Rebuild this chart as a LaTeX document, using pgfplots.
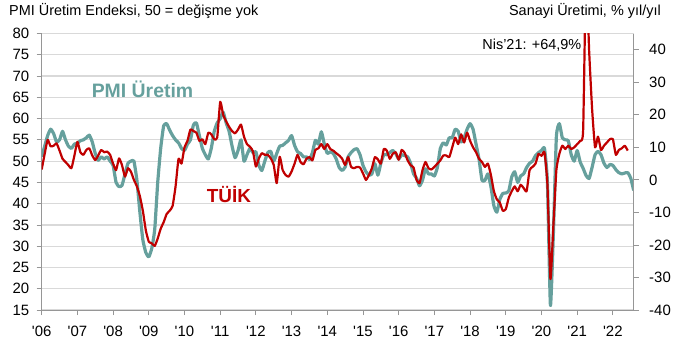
\documentclass[border=0pt]{standalone}
\usepackage{fontspec}
\setmainfont{Liberation Sans}
\usepackage{pgfplots}
\usepackage{pgfplotstable}
\pgfplotsset{compat=1.18}
\definecolor{pmiteal}{RGB}{102,160,157}
\definecolor{tuikred}{RGB}{192,0,0}
\definecolor{gridgray}{RGB}{217,217,217}
\definecolor{axisgray}{RGB}{150,150,150}

\pgfplotstableread{
yr mo pmi tuik
2006 1 51 3.2
2006 2 53.5 8
2006 3 56 12.3
2006 4 57.5 10.3
2006 5 56.5 10.5
2006 6 54.5 11.2
2006 7 55 9
2006 8 57 6.5
2006 9 55 5.5
2006 10 53.5 4.5
2006 11 53 3.6
2006 12 54 7.5
2007 1 54.2 11.7
2007 2 54.8 8.5
2007 3 55 7.7
2007 4 55.5 9.2
2007 5 56.1 9.7
2007 6 54.5 7.5
2007 7 51.8 6.1
2007 8 50.2 7.5
2007 9 51 9.2
2007 10 50.5 8.5
2007 11 51 8.7
2007 12 50 7.7
2008 1 49 5
2008 2 45 3
2008 3 44 6.6
2008 4 44.3 4.5
2008 5 47 1
2008 6 49.5 3.6
2008 7 50 2.5
2008 8 50 0
2008 9 45.5 -2
2008 10 38 -5
2008 11 31.5 -9.5
2008 12 28.5 -15.5
2009 1 27.5 -19
2009 2 29.5 -19.5
2009 3 34 -20.3
2009 4 45 -18
2009 5 53 -15
2009 6 58.3 -13
2009 7 58.8 -10.5
2009 8 57.3 -9.5
2009 9 56 -8
2009 10 55 -2
2009 11 54.3 6.5
2009 12 53 5
2010 1 52.5 10
2010 2 54 12
2010 3 55 15.5
2010 4 58.5 15
2010 5 59 14.5
2010 6 56 12
2010 7 53 12.5
2010 8 51.5 11
2010 9 50.5 14.5
2010 10 53 14
2010 11 57 12.5
2010 12 59 13
2011 1 60 24
2011 2 61.5 20
2011 3 59 18
2011 4 57 16.3
2011 5 53.5 15
2011 6 50.8 14.3
2011 7 52.5 15.5
2011 8 55 17
2011 9 50 13.3
2011 10 51.5 11
2011 11 53 10.2
2011 12 52 8.8
2012 1 52.2 4.1
2012 2 49 6.6
2012 3 47.8 8.2
2012 4 50 7.7
2012 5 52 7.7
2012 6 52.3 6.6
2012 7 50 4.6
2012 8 51.8 -1
2012 9 53.5 7.1
2012 10 53.7 3
2012 11 54.3 1.5
2012 12 54.9 1
2013 1 56 2.6
2013 2 53.7 5
2013 3 52.2 7.7
2013 4 51.8 5.5
2013 5 51 4.8
2013 6 51 6.5
2013 7 50.4 7
2013 8 52 6
2013 9 54.9 9.2
2013 10 54 9.7
2013 11 56.9 11
2013 12 54 9.5
2014 1 51.8 11
2014 2 52.2 9.5
2014 3 51.8 9
2014 4 50.5 8.2
2014 5 48.5 7.5
2014 6 47.8 6.5
2014 7 48.6 4.6
2014 8 51 7
2014 9 52 4
2014 10 52.7 3.6
2014 11 52.9 4
2014 12 51.5 3.8
2015 1 49 2
2015 2 47.5 0
2015 3 46.7 1.5
2015 4 47 3.6
2015 5 49.4 7
2015 6 46.7 6.3
2015 7 49.5 5
2015 8 51.5 9.5
2015 9 51.5 9
2015 10 52 6.5
2015 11 52.5 8
2015 12 51.8 8.5
2016 1 50.5 6.2
2016 2 51.5 9.2
2016 3 51.3 8.3
2016 4 51 6
2016 5 49.5 4.5
2016 6 47 3.8
2016 7 46 0
2016 8 44.2 -1
2016 9 45.5 3
2016 10 48.2 5.5
2016 11 47 3.6
2016 12 47 3.2
2017 1 46.5 4
2017 2 48.5 5
2017 3 53 6
2017 4 54.3 7.5
2017 5 53.8 7.5
2017 6 55.5 7
2017 7 55.5 10
2017 8 57.5 13
2017 9 57 11
2017 10 54.5 14
2017 11 55.5 11.5
2017 12 57.5 14.5
2018 1 58.8 12
2018 2 57.5 10
2018 3 54 8.5
2018 4 50.5 6.5
2018 5 45.5 5.5
2018 6 45.5 4
2018 7 47 5
2018 8 44 1.5
2018 9 39.5 -3.5
2018 10 38 -6
2018 11 41 -7
2018 12 42.4 -9.5
2019 1 42.5 -9
2019 2 43 -5.5
2019 3 46.3 -3.5
2019 4 47.5 -2
2019 5 45 -3.5
2019 6 46.5 -1.5
2019 7 47 -2.5
2019 8 48.5 -3.5
2019 9 49.5 3
2019 10 50 4
2019 11 51.3 5
2019 12 52 8
2020 1 52.5 7.4
2020 2 53 8.5
2020 3 45 -1.5
2020 4 16.1 -30.5
2020 5 33 -14
2020 6 55.7 3
2020 7 58.8 8
2020 8 55.5 10.5
2020 9 55 9.5
2020 10 54.8 10.5
2020 11 51.5 9.5
2020 12 50 10
2021 1 52.5 11
2021 2 49.8 12
2021 3 48.3 15.3
2021 4 46.6 64.9
2021 5 45.9 40
2021 6 48.5 22
2021 7 51.5 10
2021 8 52.3 13.3
2021 9 51.5 9.2
2021 10 49.5 10.5
2021 11 48.5 11.5
2021 12 49.2 12.5
2022 1 49 12.5
2022 2 48 7.7
2022 3 47.3 9.2
2022 4 47 9.7
2022 5 47.2 10.5
2022 6 47.3 9
2022 7 46 nan
2022 8 43.1 nan
}\datatable

\pgfplotsset{
  common/.style={
    at={(41.7bp,41bp)}, anchor=south west,
    scale only axis, width=592bp, height=276.5bp,
    xmin=2006, xmax=2022.5833,
    axis line style={axisgray, line width=1bp, -},
    tick style={axisgray, line width=0.8bp},
    tick align=outside,
    major tick length=5bp,
    ticklabel style={font=\fontsize{15}{16}\selectfont},
    /pgf/number format/assume math mode=true,
    clip=true,
  }
}

\begin{document}
\begin{tikzpicture}[x=1bp,y=1bp]
\useasboundingbox (0,0) rectangle (683,351);
\begin{axis}[common,
  ymin=15, ymax=80, ytick={15,20,...,80},
  ymajorgrids, grid style={gridgray, line width=1.2bp},
  axis x line*=bottom, axis y line*=left,
  yticklabel style={xshift=-4bp},
  xticklabel style={yshift=-8bp},
  xtick={2006,...,2022},
  xticklabels={\textquotesingle06,\textquotesingle07,\textquotesingle08,\textquotesingle09,\textquotesingle10,\textquotesingle11,\textquotesingle12,\textquotesingle13,\textquotesingle14,\textquotesingle15,\textquotesingle16,\textquotesingle17,\textquotesingle18,\textquotesingle19,\textquotesingle20,\textquotesingle21,\textquotesingle22},
]
\addplot[pmiteal, line width=3.2bp, line join=round, smooth, tension=0.3]
  table[x expr=\thisrow{yr}+(\thisrow{mo}-1)/12, y=pmi] {\datatable};
\end{axis}
\begin{axis}[common,
  ymin=-40, ymax=45, ytick={-40,-30,...,40},
  axis x line=none, axis y line*=right,
  yticklabel style={xshift=7bp},
]
\addplot[tuikred, line width=2.2bp, line join=round, smooth, tension=0.3]
  table[x expr=\thisrow{yr}+(\thisrow{mo}-1)/12, y=tuik] {\datatable};
\end{axis}
\node[anchor=west, inner sep=0, font=\fontsize{14.5}{16}\selectfont] at (9,340.5) {PMI Üretim Endeksi, 50 = değişme yok};
\node[anchor=east, inner sep=0, font=\fontsize{14.5}{16}\selectfont] at (661,340) {Sanayi Üretimi, \% yıl/yıl};
\node[anchor=east, inner sep=0, font=\fontsize{14.5}{16}\selectfont] at (581.5,306) {Nis’21: +64,9\%};
\node[inner sep=0, text=pmiteal, font=\bfseries\fontsize{19.5}{21}\selectfont] at (142.5,262) {PMI Üretim};
\node[inner sep=0, text=tuikred, font=\bfseries\fontsize{19}{21}\selectfont] at (229,157) {TÜİK};
\end{tikzpicture}
\end{document}
